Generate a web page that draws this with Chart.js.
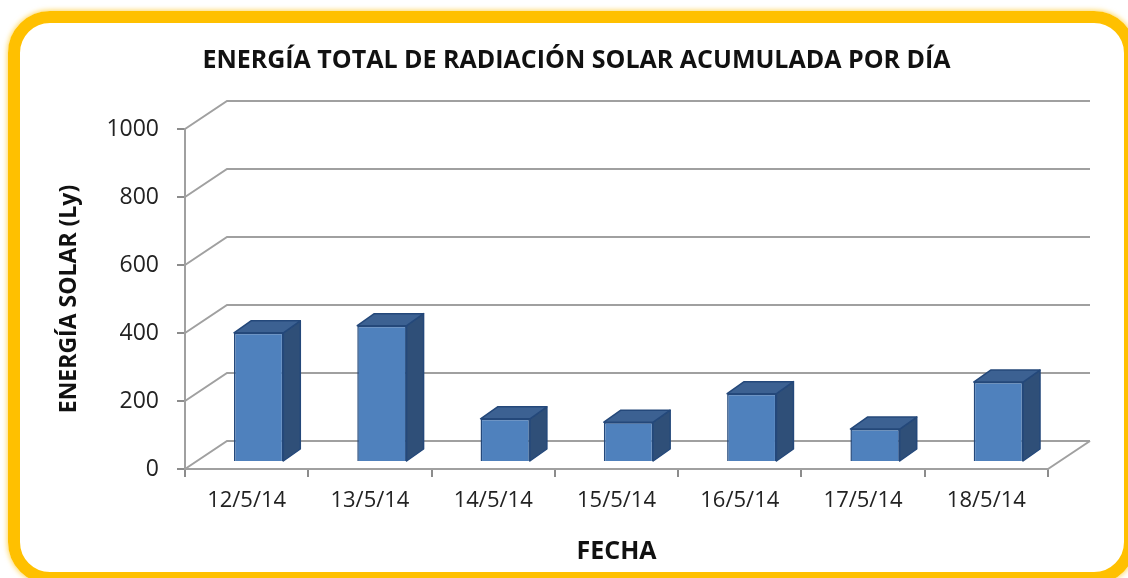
<!DOCTYPE html>
<html>
<head>
<meta charset="utf-8">
<script src="https://cdn.jsdelivr.net/npm/chart.js@4.4.1/dist/chart.umd.min.js"></script>
<style>
  html, body { margin: 0; padding: 0; background: #fff; width: 1128px; height: 578px; overflow: hidden; }
  .marco {
    position: absolute; left: 8px; top: 11px; width: 1128px; height: 573px;
    box-sizing: border-box; border: 12px solid #FFC000; border-radius: 42px;
    box-shadow: 0 0 5px 1px rgba(255, 192, 0, 0.6);
  }
  #grafica { position: absolute; left: 0; top: 0; }
</style>
</head>
<body>
<div class="marco"></div>
<canvas id="grafica" width="1128" height="578"></canvas>
<script>
// datos
var fechas = ['12/5/14', '13/5/14', '14/5/14', '15/5/14', '16/5/14', '17/5/14', '18/5/14'];
var energia = [380, 401, 127, 117, 201, 97, 235];
var ticksY = [0, 200, 400, 600, 800, 1000];

// profundidad del efecto 3D
var paredX = 42, paredY = -28;
var barraX = 12, barraY = -7;
var fondoX = 17, fondoY = -12;

var efecto3d = {
  id: 'efecto3d',
  afterLayout: function(chart) {
    // el titulo va centrado sobre la caja 3D, no sobre el canvas
    var t = chart.titleBlock;
    if (t) { t.left = 25; t.right = 1128; }
  },
  beforeDatasetsDraw: function(chart) {
    var ctx = chart.ctx, a = chart.chartArea, y = chart.scales.y;
    ctx.save();
    ctx.strokeStyle = '#A0A0A0';
    ctx.lineWidth = 2;
    ticksY.forEach(function(v) {
      var py = y.getPixelForValue(v);
      ctx.beginPath();
      ctx.moveTo(a.left, py);
      ctx.lineTo(a.left + paredX, py + paredY);
      ctx.lineTo(a.right + paredX, py + paredY);
      ctx.stroke();
    });
    ctx.beginPath();
    ctx.moveTo(a.right, a.bottom);
    ctx.lineTo(a.right + paredX, a.bottom + paredY);
    ctx.stroke();
    ctx.restore();
    // las caras frontales se dibujan desplazadas hacia el fondo
    ctx.save();
    ctx.translate(barraX, barraY);
  },
  afterDatasetsDraw: function(chart) {
    var ctx = chart.ctx;
    ctx.restore();
    ctx.save();
    ctx.strokeStyle = '#24487A';
    ctx.lineWidth = 1.5;
    ctx.lineJoin = 'round';
    chart.getDatasetMeta(0).data.forEach(function(b) {
      var xl = b.x - b.width / 2 + barraX, xr = b.x + b.width / 2 + barraX;
      var top = b.y + barraY, base = b.base + barraY;
      // lado
      ctx.beginPath();
      ctx.moveTo(xr, top);
      ctx.lineTo(xr + fondoX, top + fondoY);
      ctx.lineTo(xr + fondoX, base + fondoY);
      ctx.lineTo(xr, base);
      ctx.closePath();
      ctx.fillStyle = '#2F4F78';
      ctx.fill();
      ctx.stroke();
      // tapa
      ctx.beginPath();
      ctx.moveTo(xl, top);
      ctx.lineTo(xl + fondoX, top + fondoY);
      ctx.lineTo(xr + fondoX, top + fondoY);
      ctx.lineTo(xr, top);
      ctx.closePath();
      ctx.fillStyle = '#3C6192';
      ctx.fill();
      ctx.stroke();
    });
    ctx.restore();
  }
};

var fuente = "'Open Sans', sans-serif";

var config = {
  type: 'bar',
  data: {
    labels: fechas,
    datasets: [{
      label: 'Energía solar',
      data: energia,
      backgroundColor: '#4F81BD',
      borderColor: '#24487A',
      borderWidth: 1.5,
      categoryPercentage: 1,
      barPercentage: 0.4
    }]
  },
  options: {
    responsive: false,
    animation: false,
    layout: { padding: { left: 0, right: 80, top: 0, bottom: 0 } },
    plugins: {
      legend: { display: false },
      tooltip: { enabled: false },
      title: {
        display: true,
        text: 'ENERGÍA TOTAL DE RADIACIÓN SOLAR ACUMULADA POR DÍA',
        color: '#111',
        font: { family: fuente, size: 25, weight: 'bold' },
        padding: { top: 46, bottom: 53 }
      }
    },
    scales: {
      x: {
        grid: { drawOnChartArea: false, drawTicks: true, tickLength: 8, color: '#8C8C8C', lineWidth: 2 },
        border: { color: '#A0A0A0', width: 2 },
        ticks: { color: '#222', padding: 11, font: { family: fuente, size: 22 } },
        title: {
          display: true, text: 'FECHA', color: '#111',
          font: { family: fuente, size: 25, weight: 'bold' },
          padding: { top: 0, bottom: 11 }
        },
        afterFit: function(s) { s.height = 109; }
      },
      y: {
        min: 0, max: 1000,
        afterBuildTicks: function(s) { s.ticks = ticksY.map(function(v) { return { value: v }; }); },
        grid: { drawOnChartArea: false, drawTicks: true, tickLength: 8, color: '#8C8C8C', lineWidth: 2 },
        border: { color: '#A0A0A0', width: 2 },
        ticks: {
          color: '#222', padding: 18, font: { family: fuente, size: 23 },
          callback: function(v) { return String(v); }
        },
        title: {
          display: true, text: 'ENERGÍA SOLAR (Ly)', color: '#111',
          font: { family: fuente, size: 23, weight: 'bold' },
          padding: { top: 56, bottom: 0 }
        },
        afterFit: function(s) { s.width = 185; }
      }
    }
  },
  plugins: [efecto3d]
};

var ctx = document.getElementById('grafica').getContext('2d');
window.miGrafica = new Chart(ctx, config);
</script>
</body>
</html>
